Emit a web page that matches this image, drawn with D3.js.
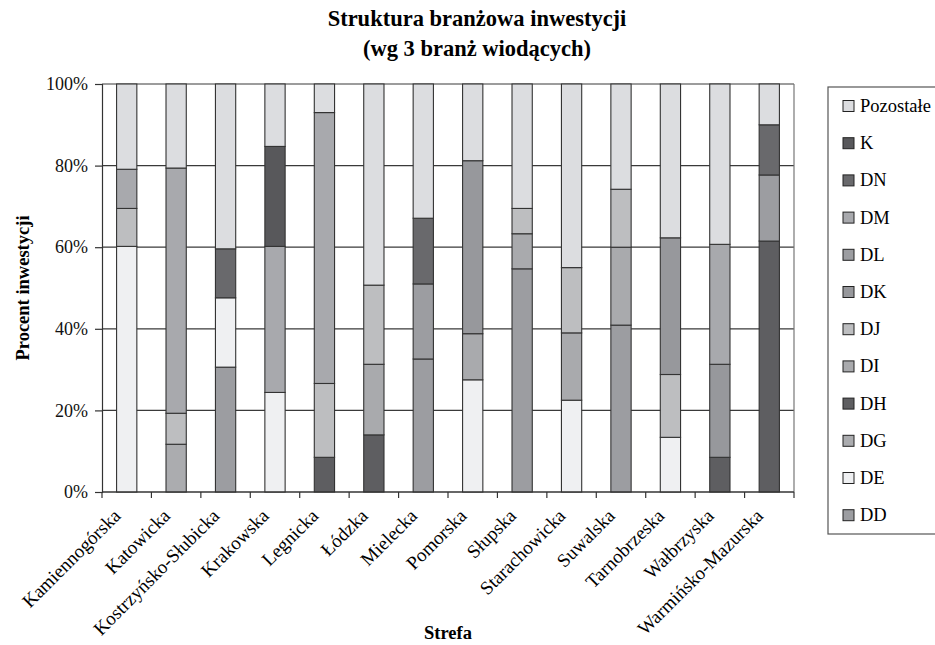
<!DOCTYPE html>
<html><head><meta charset="utf-8">
<script src="https://cdn.jsdelivr.net/npm/d3@7"></script>
<style>
html,body{margin:0;padding:0;background:#fff;}
text{font-family:"Liberation Serif","Times New Roman",serif;fill:#111;}
</style>
</head><body>
<svg id="chart" width="935" height="645"></svg>
<script>
const categories = ["Kamiennogórska","Katowicka","Kostrzyńsko-Słubicka","Krakowska","Legnicka","Łódzka","Mielecka","Pomorska","Słupska","Starachowicka","Suwalska","Tarnobrzeska","Wałbrzyska","Warmińsko-Mazurska"];
const seriesNames = ["DD","DE","DG","DH","DI","DJ","DK","DL","DM","DN","K","Pozostałe"];
const DD  = [0,0,30.6,0,0,0,32.6,0,54.7,0,40.9,0,0,0];
const DE  = [60.2,0,17.0,24.4,0,0,0,27.5,0,22.5,0,13.4,0,0];
const DG  = [0,11.7,0,0,0,0,0,0,0,0,0,0,0,0];
const DH  = [0,0,0,0,8.5,14.0,0,0,0,0,0,0,8.5,61.5];
const DI  = [0,0,0,0,0,17.3,0,11.3,8.6,16.5,19.1,0,0,0];
const DJ  = [9.3,7.6,0,0,18.1,19.4,0,0,6.2,16.0,14.2,15.4,0,0];
const DK  = [0,0,0,0,0,0,0,42.4,0,0,0,33.5,22.8,0];
const DL  = [0,0,0,0,0,0,18.4,0,0,0,0,0,0,16.2];
const DM  = [9.6,60.1,0,35.8,66.4,0,0,0,0,0,0,0,29.4,0];
const DN  = [0,0,12.0,0,0,0,16.1,0,0,0,0,0,0,12.3];
const K   = [0,0,0,24.5,0,0,0,0,0,0,0,0,0,0];
const Pozostale = [20.9,20.6,40.4,15.3,7.0,49.3,32.9,18.8,30.5,45.0,25.8,37.7,39.3,10.0];
const seriesValues = [DD,DE,DG,DH,DI,DJ,DK,DL,DM,DN,K,Pozostale];
const seriesColors = ["#9c9da1","#eff0f2","#abacaf","#5e5e61","#a9aaad","#bdbec0","#97989c","#9c9da1","#a8a9ad","#69696c","#58585b","#dcdde0"];
const yTicks = [0,20,40,60,80,100];
const yTickLabels = ["0%","20%","40%","60%","80%","100%"];
const titleLines = ["Struktura branżowa inwestycji","(wg 3 branż wiodących)"];
const yTitle = "Procent inwestycji";
const xTitle = "Strefa";

const table = categories.map((c,i)=>{
  const row = {cat:c};
  seriesNames.forEach((s,j)=>row[s]=seriesValues[j][i]);
  return row;
});

const svg = d3.select("#chart");
const L=102, R=794, T=84, B=492;

const x = d3.scaleBand().domain(categories).range([L,R]).paddingInner(0.59).paddingOuter(0.295);
const y = d3.scaleLinear().domain([0,100]).range([B,T]);
const color = d3.scaleOrdinal().domain(seriesNames).range(seriesColors);

// title
svg.append("g").selectAll("text").data(titleLines).join("text")
  .attr("x",477).attr("y",(d,i)=>26+i*30)
  .attr("text-anchor","middle").attr("font-weight","bold").attr("font-size",22.5)
  .style("fill","#000")
  .text(d=>d);

// grid
svg.append("g").selectAll("line").data(yTicks).join("line")
  .attr("x1",L).attr("x2",R).attr("y1",d=>y(d)).attr("y2",d=>y(d))
  .attr("stroke","#3a3a3a").attr("stroke-width",1.2);
svg.append("line").attr("x1",R).attr("x2",R).attr("y1",T).attr("y2",B)
  .attr("stroke","#777").attr("stroke-width",1.2);

// bars
const stacked = d3.stack().keys(seriesNames)(table);
svg.append("g").selectAll("g").data(stacked).join("g")
  .attr("fill",d=>color(d.key))
  .selectAll("rect").data(d=>d.filter(p=>p[1]-p[0]>0)).join("rect")
  .attr("x",d=>x(d.data.cat)).attr("width",x.bandwidth())
  .attr("y",d=>y(d[1])).attr("height",d=>y(d[0])-y(d[1]))
  .attr("stroke","#333").attr("stroke-width",1.1);

// y axis
const yAxis = svg.append("g").attr("transform",`translate(${L},0)`)
  .call(d3.axisLeft(y).tickValues(yTicks).tickFormat((d,i)=>yTickLabels[i]).tickSize(7).tickPadding(7));
yAxis.select(".domain").attr("stroke","#333").attr("stroke-width",1.2);
yAxis.selectAll(".tick line").attr("stroke","#333").attr("stroke-width",1.2);
yAxis.selectAll(".tick text").attr("font-family","Liberation Serif").attr("font-size",18).style("fill","#111");

// x axis line and ticks at band boundaries
svg.append("line").attr("x1",L).attr("x2",R).attr("y1",B).attr("y2",B).attr("stroke","#333").attr("stroke-width",1.2);
const step = x.step();
svg.append("g").selectAll("line").data(d3.range(categories.length+1)).join("line")
  .attr("x1",i=>L+i*step).attr("x2",i=>L+i*step).attr("y1",B).attr("y2",B+6)
  .attr("stroke","#333").attr("stroke-width",1.2);

// x labels
svg.append("g").selectAll("text").data(categories).join("text")
  .attr("transform",d=>`translate(${x(d)+x.bandwidth()/2-5},${B+25}) rotate(-45)`)
  .attr("text-anchor","end").attr("font-size",19)
  .style("fill","#000")
  .text(d=>d);

// axis titles
svg.append("text").attr("transform",`translate(29,${(T+B)/2}) rotate(-90)`)
  .attr("text-anchor","middle").attr("font-weight","bold").attr("font-size",18.5).style("fill","#000").text(yTitle);
svg.append("text").attr("x",448).attr("y",639).attr("text-anchor","middle")
  .attr("font-weight","bold").attr("font-size",18.5).style("fill","#000").text(xTitle);

// legend
svg.append("rect").attr("x",828).attr("y",87).attr("width",130).attr("height",447)
  .attr("fill","#fff").attr("stroke","#555").attr("stroke-width",1.2);
const legendItems = seriesNames.slice().reverse();
const lg = svg.append("g").selectAll("g").data(legendItems).join("g")
  .attr("transform",(d,i)=>`translate(843,${106+i*37.2})`);
lg.append("rect").attr("x",0).attr("y",-5.5).attr("width",11).attr("height",11)
  .attr("fill",d=>color(d)).attr("stroke","#222").attr("stroke-width",1);
lg.append("text").attr("x",17).attr("y",6).attr("font-size",18.5).style("fill","#000").text(d=>d);
</script>
</body></html>
